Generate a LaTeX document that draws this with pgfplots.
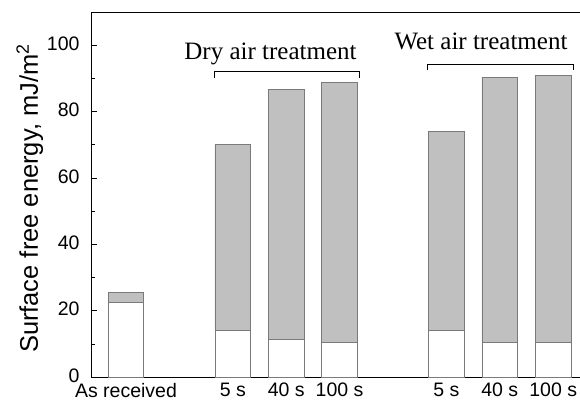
\documentclass[border=0pt]{standalone}
\usepackage{fontspec}
\setmainfont{Liberation Sans}
\newfontfamily\seriffont{Liberation Serif}
\usepackage{pgfplots}
\pgfplotsset{compat=1.18}
\definecolor{barfill}{HTML}{C0C0C0}
\definecolor{barline}{HTML}{7A7A7A}
\pgfplotstableread{
x white gray
0 22.4 3.1
2 14.0 56.0
3 11.25 75.35
4 10.3 78.4
6 13.9 60.2
7 10.3 80.1
8 10.3 80.6
}\datatable
\begin{document}
\begin{tikzpicture}
\begin{axis}[
  name=ax,
  scale only axis,
  width=489pt, height=365pt,
  xmin=-0.655, xmax=8.502,
  ymin=0, ymax=110,
  axis x line*=box, axis y line*=left,
  ybar stacked, bar width=35.7pt,
  xtick={0,2,3,4,6,7,8},
  xticklabels={As received,5 s,40 s,100 s,5 s,40 s,100 s},
  x tick style={draw=none},
  ytick={0,20,40,60,80,100},
  minor y tick num=1,
  tick align=inside,
  major tick length=6pt, minor tick length=4pt,
  /pgf/number format/assume math mode=true,
  ticklabel style={font=\fontsize{19.5}{21}\selectfont},
  xticklabel style={yshift=-5pt, inner sep=1pt},
  yticklabel style={xshift=-8pt, yshift=1.5pt},
  axis line style={black, line width=0.8pt},
  every tick/.style={black, line width=0.6pt},
]
\addplot[fill=white, draw=barline, line width=0.8pt] table[x=x, y=white] {\datatable};
\addplot[fill=barfill, draw=barline, line width=0.8pt] table[x=x, y=gray] {\datatable};
\draw[black, line width=1pt] (axis cs:1.66,90.2) -- (axis cs:1.66,92.1) -- (axis cs:4.38,92.1) -- (axis cs:4.38,90.2);
\draw[black, line width=1pt] (axis cs:5.64,92.4) -- (axis cs:5.64,94.3) -- (axis cs:8.38,94.3) -- (axis cs:8.38,92.4);
\node[anchor=base, inner sep=0pt, font=\seriffont\fontsize{25}{28}\selectfont] at (axis cs:2.706,95.8) {Dry air treatment};
\node[anchor=base, inner sep=0pt, font=\seriffont\fontsize{25}{28}\selectfont] at (axis cs:6.648,98.8) {Wet air treatment};
\end{axis}
\node[rotate=90, anchor=base, inner sep=0pt, font=\fontsize{25.5}{27}\selectfont] at ([xshift=-53pt,yshift=-4pt]ax.west) {Surface free energy, mJ/m\textsuperscript{2}};
\pgfresetboundingbox
\path ([xshift=-91pt,yshift=-25pt]ax.south west) rectangle ([yshift=12pt]ax.north east);
\end{tikzpicture}
\end{document}
